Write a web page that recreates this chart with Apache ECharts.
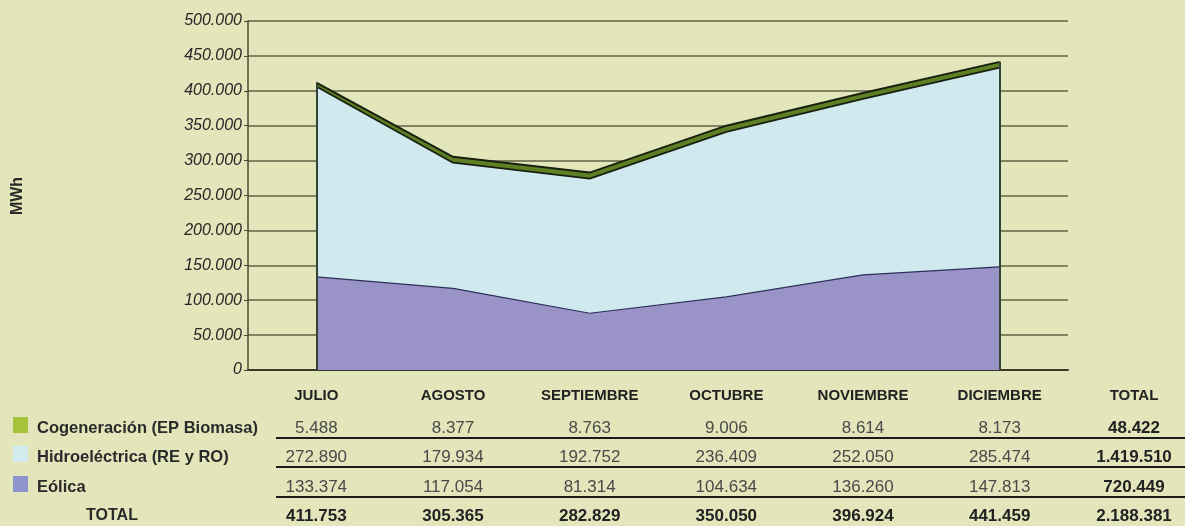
<!DOCTYPE html>
<html>
<head>
<meta charset="utf-8">
<script src="https://cdn.jsdelivr.net/npm/echarts@6/dist/echarts.min.js"></script>
<style>
  html, body { margin: 0; padding: 0; background: #e3e5ba; }
  #chart { width: 1185px; height: 526px; }
</style>
</head>
<body>
<div id="chart"></div>
<script>
const months = ['JULIO', 'AGOSTO', 'SEPTIEMBRE', 'OCTUBRE', 'NOVIEMBRE', 'DICIEMBRE'];
const cogeneracion = [5488, 8377, 8763, 9006, 8614, 8173];
const hidroelectrica = [272890, 179934, 192752, 236409, 252050, 285474];
const eolica = [133374, 117054, 81314, 104634, 136260, 147813];
const monthTotals = [411753, 305365, 282829, 350050, 396924, 441459];
const seriesTotals = [48422, 1419510, 720449];
const grandTotal = 2188381;
const rowNames = ['Cogeneración (EP Biomasa)', 'Hidroeléctrica (RE y RO)', 'Eólica'];
const rowColors = ['#a6c23a', '#d3eaee', '#8f95cc'];

const fmt = v => String(v).replace(/\B(?=(\d{3})+(?!\d))/g, '.');
const FONT = '"Liberation Sans", Arial, sans-serif';

const chart = echarts.init(document.getElementById('chart'));
const option = {
  backgroundColor: '#e3e5ba',
  animation: false,
  grid: { left: 248, right: 117, top: 21, bottom: 156 },
  xAxis: {
    type: 'category',
    data: months,
    boundaryGap: true,
    axisLine: { lineStyle: { color: '#3a3a2a', width: 2 } },
    axisTick: { show: false },
    axisLabel: { margin: 18, fontFamily: FONT, fontWeight: 'bold', fontSize: 15, color: '#222' }
  },
  yAxis: {
    type: 'value',
    min: 0,
    max: 500000,
    interval: 50000,
    axisLine: { show: true, lineStyle: { color: '#4a4a35', width: 1.5 } },
    axisTick: { show: true, length: 4, lineStyle: { color: '#4a4a35' } },
    axisLabel: {
      formatter: v => fmt(v),
      fontFamily: FONT, fontStyle: 'italic', fontSize: 16, color: '#262626', margin: 6
    },
    splitLine: { lineStyle: { color: '#626244', width: 1.5 } }
  },
  series: [
    {
      name: 'Eólica', type: 'line', stack: 'total', data: eolica,
      symbol: 'none',
      lineStyle: { color: '#2b2e58', width: 1.2 },
      areaStyle: { color: '#9993c7', opacity: 1 },
      markLine: {
        silent: true, symbol: 'none', label: { show: false },
        lineStyle: { color: '#34433a', width: 2, type: 'solid' },
        data: [
          [{ coord: [0, 0] }, { coord: [0, monthTotals[0]] }],
          [{ coord: [5, 0] }, { coord: [5, monthTotals[5]] }]
        ]
      }
    },
    {
      name: 'Hidroeléctrica (RE y RO)', type: 'line', stack: 'total', data: hidroelectrica,
      symbol: 'none',
      lineStyle: { color: '#18200f', width: 1.8 },
      areaStyle: { color: '#d0e9ef', opacity: 1 }
    },
    {
      name: 'Cogeneración (EP Biomasa)', type: 'line', stack: 'total', data: cogeneracion,
      symbol: 'none',
      lineStyle: { color: '#18200f', width: 2 },
      areaStyle: { color: '#5f7f24', opacity: 1 }
    }
  ]
};
chart.setOption(option);

// table below the chart
const colX = months.map((m, i) => chart.convertToPixel({ xAxisIndex: 0 }, i));
const totalX = 1134;
const rowY = [428, 457, 487];
const totalRowY = 516;
const g = [];
const txt = (x, y, s, opts) => g.push({
  type: 'text', x, y, silent: true,
  style: Object.assign({
    text: s, fontFamily: FONT, fontSize: 17, fill: '#4a4a4a',
    align: 'center', verticalAlign: 'middle'
  }, opts || {})
});

txt(18, 196, 'MWh', { fontWeight: 'bold', fontSize: 16, fill: '#2a2a2a' });
g[g.length - 1].rotation = Math.PI / 2;
txt(totalX, 396, 'TOTAL', { fontWeight: 'bold', fontSize: 15, fill: '#222' });

const rows = [cogeneracion, hidroelectrica, eolica];
rows.forEach((vals, r) => {
  g.push({
    type: 'rect', silent: true,
    shape: { x: 13, y: rowY[r] - 11, width: 15, height: 16 },
    style: { fill: rowColors[r] }
  });
  txt(37, rowY[r], rowNames[r], { align: 'left', fontWeight: 'bold', fontSize: 16.5, fill: '#2a2a2a' });
  vals.forEach((v, i) => txt(colX[i], rowY[r], fmt(v)));
  txt(totalX, rowY[r], fmt(seriesTotals[r]), { fontWeight: 'bold', fill: '#222' });
  g.push({
    type: 'line', silent: true,
    shape: { x1: 276, y1: rowY[r] + 10, x2: 1185, y2: rowY[r] + 10 },
    style: { stroke: '#1a1a1a', lineWidth: 2 }
  });
});
txt(112, totalRowY, 'TOTAL', { fontWeight: 'bold', fontSize: 16, fill: '#2a2a2a' });
monthTotals.forEach((v, i) => txt(colX[i], totalRowY, fmt(v), { fontWeight: 'bold', fill: '#222' }));
txt(totalX, totalRowY, fmt(grandTotal), { fontWeight: 'bold', fill: '#222' });

chart.setOption({ graphic: g });
window.addEventListener('resize', () => chart.resize());
</script>
</body>
</html>
